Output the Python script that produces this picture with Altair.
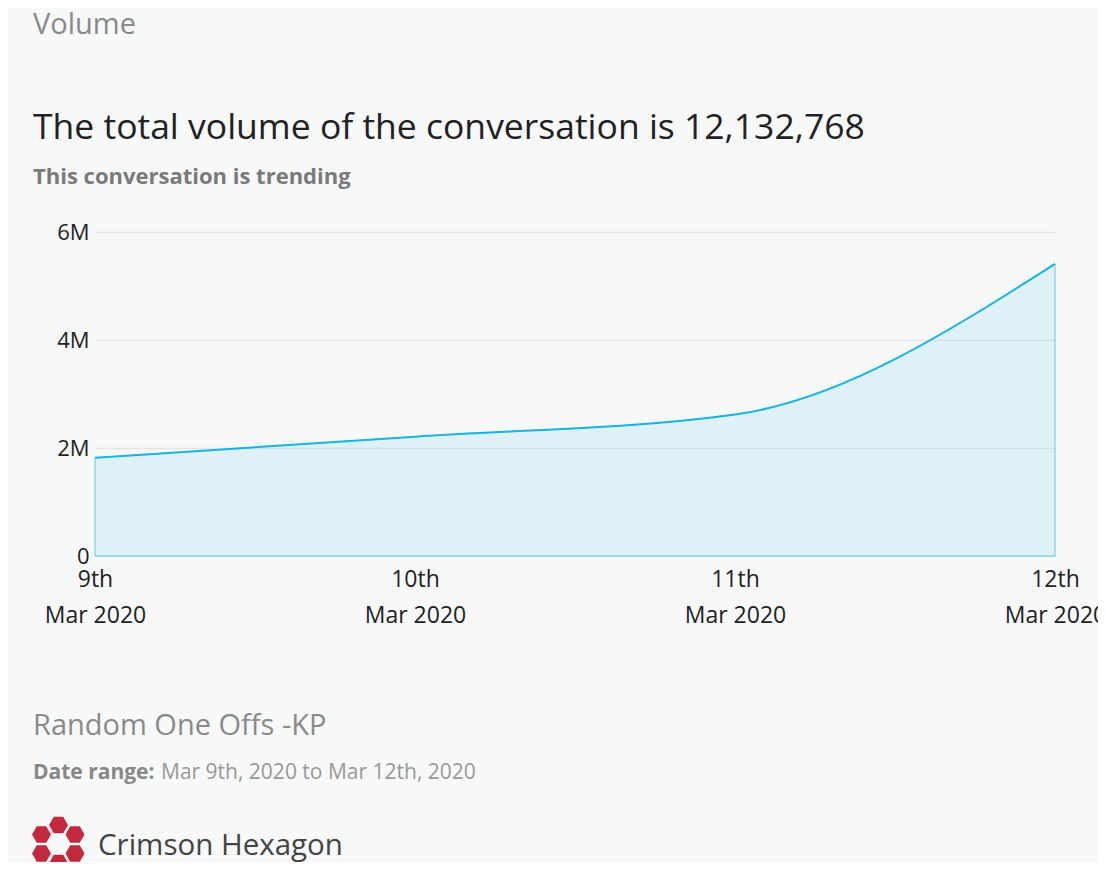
import altair as alt
import pandas as pd

# ---- data ----
days = ["9th", "10th", "11th", "12th"]
volume = [1820000, 2210000, 2620000, 5410000]
y_ticks = [0, 2000000, 4000000, 6000000]

header_label = ["Volume"]
headline = ["The total volume of the conversation is 12,132,768"]
subhead = ["This conversation is trending"]
footer_name = ["Random One Offs -KP"]
range_label = ["Date range:"]
range_text = ["Mar 9th, 2020 to Mar 12th, 2020"]
brand = ["Crimson Hexagon"]
# logo hexagon offsets (decorative)
hex_dx = [0, -17, 16.5, -17, 16.5, 0]
hex_dy = [-19, -9.5, -9.5, 9.5, 9.5, 19]

FONT = "Open Sans"
BG = "#f7f8f8"

df = pd.DataFrame({"day": days, "volume": volume})

x_enc = alt.X(
    "day:O",
    sort=days,
    scale=alt.Scale(type="point", padding=0),
    axis=alt.Axis(
        title=None,
        labelAngle=0,
        labelExpr="[datum.label, 'Mar 2020']",
        labelFont=FONT,
        labelFontSize=23,
        labelColor="#222222",
        labelPadding=12,
        labelLineHeight=36,
        labelBaseline="top",
        labelOverlap=False,
        domain=False,
        ticks=False,
        grid=False,
    ),
)
y_enc = alt.Y(
    "volume:Q",
    scale=alt.Scale(domain=[0, 6000000], nice=False),
    axis=alt.Axis(
        title=None,
        values=y_ticks,
        labelExpr="datum.value == 0 ? '0' : format(datum.value, '~s')",
        labelFont=FONT,
        labelFontSize=22,
        labelColor="#222222",
        labelPadding=6,
        domain=False,
        ticks=False,
        gridColor="#e4e6e6",
        gridWidth=1.5,
    ),
)

base = alt.Chart(df)
area = base.mark_area(
    interpolate="monotone",
    color="#49c9f1",
    fillOpacity=0.15,
    stroke="#6cc6e3",
    strokeWidth=1,
).encode(x=x_enc, y=y_enc)
line = base.mark_line(interpolate="monotone", color="#1ab4e2", strokeWidth=2).encode(
    x=alt.X("day:O", sort=days), y="volume:Q"
)


def text_layer(values, x, y, size, color, weight="normal"):
    return (
        alt.Chart(pd.DataFrame({"t": values}))
        .mark_text(
            align="left",
            baseline="alphabetic",
            font=FONT,
            fontSize=size,
            color=color,
            fontWeight=weight,
        )
        .encode(x=alt.value(x), y=alt.value(y), text="t:N")
    )


texts = [
    text_layer(header_label, -62, -198, 29, "#8a8a8a"),
    text_layer(headline, -62, -93, 35.5, "#222222"),
    text_layer(subhead, -62, -48, 22, "#7a7a7a", "bold"),
    text_layer(footer_name, -62, 503, 29, "#8a8a8a"),
    text_layer(range_label, -62, 547, 21, "#888888", "bold"),
    text_layer(range_text, 66, 547, 21, "#999999"),
    text_layer(brand, 3, 623, 29.5, "#444444"),
]

hex_df = pd.DataFrame({"dx": hex_dx, "dy": hex_dy})
hexes = (
    alt.Chart(hex_df)
    .transform_calculate(px="-36.5 + datum.dx", py="612 + datum.dy")
    .mark_point(
        shape="M -1 0 L -0.5 -0.866 L 0.5 -0.866 L 1 0 L 0.5 0.866 L -0.5 0.866 Z",
        filled=True,
        color="#c4283c",
        opacity=1,
        size=360,
    )
    .encode(
        x=alt.X("px:Q", scale=None),
        y=alt.Y("py:Q", scale=None),
    )
)

chart = (
    alt.layer(area, line, *texts, hexes)
    .properties(
        width=960,
        height=324,
        padding={"left": 87, "top": 224, "right": 43, "bottom": 306},
        autosize=alt.AutoSizeParams(type="none"),
        background=BG,
    )
    .configure_view(stroke=None)
    .configure_axisY(zindex=1)
)

chart.save("out.html", embed_options={"renderer": "svg", "actions": False})
